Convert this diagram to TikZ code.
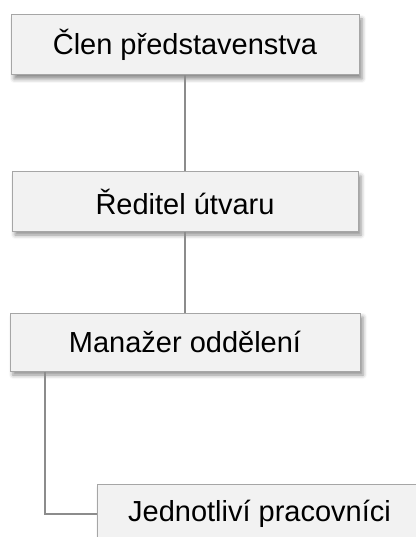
\documentclass[tikz,border=0pt]{standalone}
\usepackage{fontspec}
\setmainfont{Liberation Sans}
\usetikzlibrary{shadows.blur}
\definecolor{boxfill}{HTML}{F2F2F2}
\definecolor{boxline}{HTML}{A6A6A6}
\definecolor{linkline}{HTML}{8C8C8C}
\tikzset{
  orgbox/.style={draw=boxline, line width=1pt, fill=boxfill,
    inner sep=0pt, align=center,
    font=\fontsize{29}{34}\selectfont,
    blur shadow={shadow xshift=3pt, shadow yshift=-4pt,
      shadow blur radius=4pt, shadow opacity=45}},
  link/.style={draw=linkline, line width=1.5pt}
}
\begin{document}
\begin{tikzpicture}[x=1pt,y=-1pt]
  \useasboundingbox (0,0) rectangle (415,537);
  % hierarchy boxes
  \node[orgbox, minimum width=348pt, minimum height=60pt] (clen) at (185,45) {Člen představenstva};
  \node[orgbox, minimum width=346pt, minimum height=59pt] (reditel) at (185,201.5) {Ředitel útvaru};
  \node[orgbox, minimum width=350pt, minimum height=58pt] (manazer) at (185,342) {Manažer oddělení};
  \node[orgbox, minimum width=325pt, minimum height=60pt] (prac) at (259.5,514) {Jednotliví pracovníci};
  % connectors
  \coordinate (mstart) at ([xshift=-140pt]manazer.south);
  \draw[link] (clen.south) -- (reditel.north);
  \draw[link] (reditel.south) -- (manazer.north);
  \draw[link] (mstart) |- (prac.west);
\end{tikzpicture}
\end{document}
